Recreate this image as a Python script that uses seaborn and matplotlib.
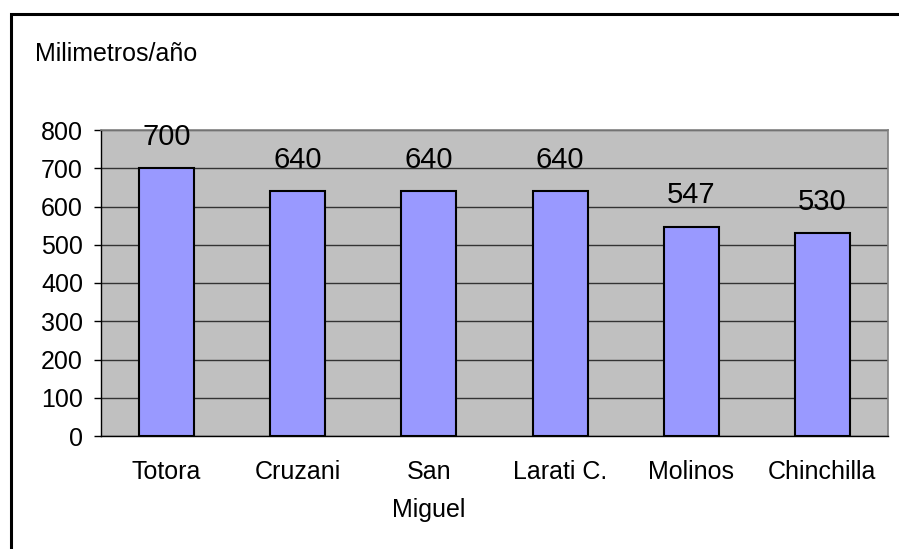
import matplotlib
matplotlib.use('Agg')
import matplotlib.pyplot as plt
import matplotlib.patches as patches
import seaborn as sns
import pandas as pd

# Data
stations = ['Totora', 'Cruzani', 'San\nMiguel', 'Larati C.', 'Molinos', 'Chinchilla']
rainfall = [700, 640, 640, 640, 547, 530]
y_ticks = [0, 100, 200, 300, 400, 500, 600, 700, 800]

df = pd.DataFrame({'Estacion': stations, 'Precipitacion': rainfall})

sns.set_style('white')
plt.rcParams['font.family'] = ['Liberation Sans', 'DejaVu Sans']
plt.rcParams['text.color'] = 'black'
plt.rcParams['xtick.color'] = 'black'
plt.rcParams['ytick.color'] = 'black'

fig = plt.figure(figsize=(8.99, 5.49), dpi=100)
ax = fig.add_axes([101 / 899, 113 / 549, 787 / 899, 306 / 549])
ax.set_facecolor('#C0C0C0')

sns.barplot(data=df, x='Estacion', y='Precipitacion', color='#9999FF',
            edgecolor='black', linewidth=1.5, width=0.42, saturation=1, ax=ax)

ax.set_xlim(-0.5, len(stations) - 0.5)
ax.set_ylim(0, 800)
ax.set_yticks(y_ticks)
ax.yaxis.grid(True, color='#333333', linewidth=1)
ax.set_axisbelow(True)
ax.set_xlabel('')
ax.set_ylabel('')

# category boundary ticks like the original
ax.set_xticks([i - 0.5 for i in range(len(stations) + 1)], minor=True)
ax.tick_params(axis='x', which='major', length=0, pad=17, labelsize=18)
ax.tick_params(axis='x', which='minor', length=5, width=1, color='black', direction='out')
ax.tick_params(axis='y', which='major', length=5, width=1, color='black',
               direction='out', pad=8, labelsize=18, left=True)
for lbl in ax.get_xticklabels():
    lbl.set_linespacing(1.75)

for s in ['left', 'bottom']:
    ax.spines[s].set_color('black')
    ax.spines[s].set_linewidth(1)
for s in ['top', 'right']:
    ax.spines[s].set_color('#808080')
    ax.spines[s].set_linewidth(1.2)

# value labels
for i, v in enumerate(rainfall):
    ax.annotate(str(v), (i, v), xytext=(0, 17), textcoords='offset points',
                ha='center', va='baseline', fontsize=21)

fig.text(35 / 899, 1 - 54 / 549, 'Milimetros/año', ha='left', va='center', fontsize=18)

# outer chart border
fig.patches.append(patches.Rectangle((10.5 / 899, -0.2), 1.2, 1.2 - 13.8 / 549,
                                     transform=fig.transFigure, fill=False,
                                     edgecolor='black', linewidth=2.2))

fig.savefig('out.png', dpi=100, facecolor='white')
